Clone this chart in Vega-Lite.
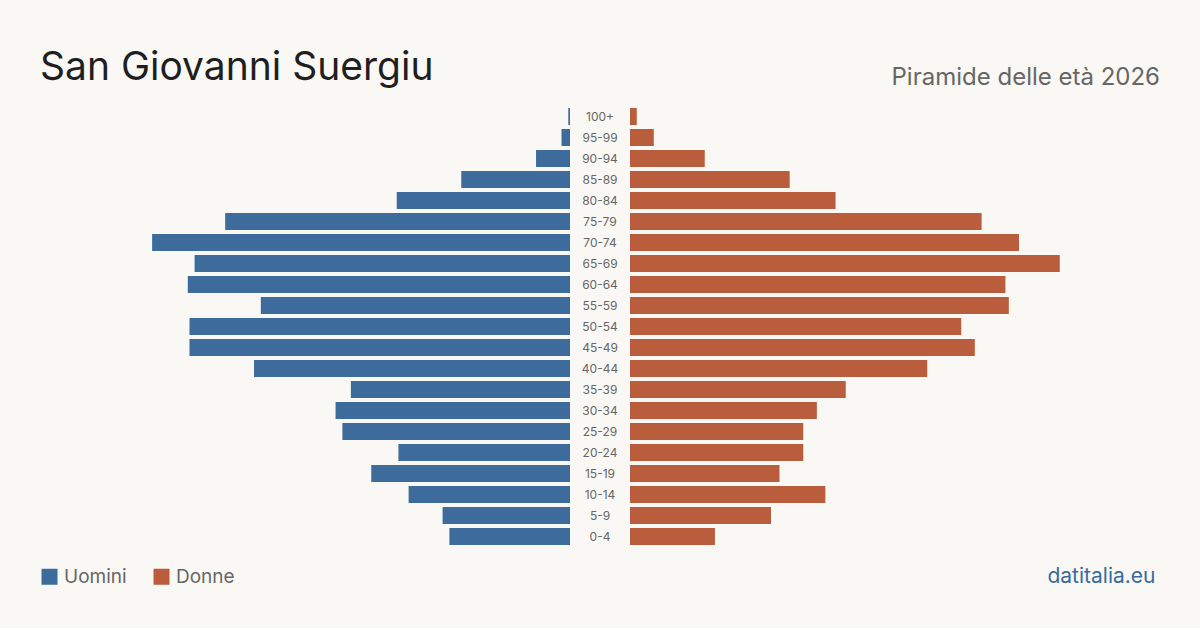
{
  "$schema": "https://vega.github.io/schema/vega-lite/v6.json",
  "background": "#f9f8f4",
  "padding": {"left": 40, "right": 40, "top": 49, "bottom": 41},
  "spacing": 0,
  "data": {"values": [
    {"age": "100+", "sex": "Uomini", "value": 1}, {"age": "100+", "sex": "Donne", "value": 4},
    {"age": "95-99", "sex": "Uomini", "value": 5}, {"age": "95-99", "sex": "Donne", "value": 14},
    {"age": "90-94", "sex": "Uomini", "value": 20}, {"age": "90-94", "sex": "Donne", "value": 44},
    {"age": "85-89", "sex": "Uomini", "value": 64}, {"age": "85-89", "sex": "Donne", "value": 94},
    {"age": "80-84", "sex": "Uomini", "value": 102}, {"age": "80-84", "sex": "Donne", "value": 121},
    {"age": "75-79", "sex": "Uomini", "value": 203}, {"age": "75-79", "sex": "Donne", "value": 207},
    {"age": "70-74", "sex": "Uomini", "value": 246}, {"age": "70-74", "sex": "Donne", "value": 229},
    {"age": "65-69", "sex": "Uomini", "value": 221}, {"age": "65-69", "sex": "Donne", "value": 253},
    {"age": "60-64", "sex": "Uomini", "value": 225}, {"age": "60-64", "sex": "Donne", "value": 221},
    {"age": "55-59", "sex": "Uomini", "value": 182}, {"age": "55-59", "sex": "Donne", "value": 223},
    {"age": "50-54", "sex": "Uomini", "value": 224}, {"age": "50-54", "sex": "Donne", "value": 195},
    {"age": "45-49", "sex": "Uomini", "value": 224}, {"age": "45-49", "sex": "Donne", "value": 203},
    {"age": "40-44", "sex": "Uomini", "value": 186}, {"age": "40-44", "sex": "Donne", "value": 175},
    {"age": "35-39", "sex": "Uomini", "value": 129}, {"age": "35-39", "sex": "Donne", "value": 127},
    {"age": "30-34", "sex": "Uomini", "value": 138}, {"age": "30-34", "sex": "Donne", "value": 110},
    {"age": "25-29", "sex": "Uomini", "value": 134}, {"age": "25-29", "sex": "Donne", "value": 102},
    {"age": "20-24", "sex": "Uomini", "value": 101}, {"age": "20-24", "sex": "Donne", "value": 102},
    {"age": "15-19", "sex": "Uomini", "value": 117}, {"age": "15-19", "sex": "Donne", "value": 88},
    {"age": "10-14", "sex": "Uomini", "value": 95}, {"age": "10-14", "sex": "Donne", "value": 115},
    {"age": "5-9", "sex": "Uomini", "value": 75}, {"age": "5-9", "sex": "Donne", "value": 83},
    {"age": "0-4", "sex": "Uomini", "value": 71}, {"age": "0-4", "sex": "Donne", "value": 50}
  ]},
  "hconcat": [
    {
      "width": 530,
      "height": 441,
      "title": {"text": "San Giovanni Suergiu", "anchor": "start", "frame": "group", "fontSize": 39, "fontWeight": "normal", "color": "#1f1f1f", "font": "Inter", "offset": 18},
      "transform": [{"filter": "datum.sex === 'Uomini'"}],
      "mark": {"type": "bar"},
      "encoding": {
        "y": {"field": "age", "type": "nominal", "axis": null,
          "sort": ["100+","95-99","90-94","85-89","80-84","75-79","70-74","65-69","60-64","55-59","50-54","45-49","40-44","35-39","30-34","25-29","20-24","15-19","10-14","5-9","0-4"],
          "scale": {"paddingInner": 0.19, "paddingOuter": 0.095}},
        "x": {"field": "value", "type": "quantitative", "axis": null, "scale": {"domain": [0, 312], "reverse": true, "nice": false}},
        "color": {"field": "sex", "type": "nominal",
          "scale": {"domain": ["Uomini", "Donne"], "range": ["#3c6b9c", "#b95d3c"]},
          "legend": {"orient": "none", "legendX": 0, "legendY": 461, "direction": "horizontal", "title": null,
            "symbolType": "square", "symbolSize": 256, "symbolStrokeWidth": 0, "symbolOpacity": 1,
            "labelFontSize": 19, "labelColor": "#666666", "labelFont": "Inter", "labelOffset": 5, "columnPadding": 25}}
      }
    },
    {
      "width": 60,
      "height": 441,
      "transform": [{"filter": "datum.sex === 'Uomini'"}],
      "mark": {"type": "text", "fontSize": 12, "color": "#666666", "font": "Inter", "baseline": "middle", "align": "center"},
      "encoding": {
        "y": {"field": "age", "type": "nominal", "axis": null,
          "sort": ["100+","95-99","90-94","85-89","80-84","75-79","70-74","65-69","60-64","55-59","50-54","45-49","40-44","35-39","30-34","25-29","20-24","15-19","10-14","5-9","0-4"],
          "scale": {"paddingInner": 0.19, "paddingOuter": 0.095}},
        "text": {"field": "age", "type": "nominal"}
      }
    },
    {
      "width": 530,
      "height": 441,
      "title": {"text": "Piramide delle età 2026", "anchor": "end", "frame": "group", "fontSize": 24, "fontWeight": "normal", "color": "#666666", "font": "Inter", "offset": 16},
      "transform": [{"filter": "datum.sex === 'Donne'"}],
      "mark": {"type": "bar"},
      "encoding": {
        "y": {"field": "age", "type": "nominal", "axis": null,
          "sort": ["100+","95-99","90-94","85-89","80-84","75-79","70-74","65-69","60-64","55-59","50-54","45-49","40-44","35-39","30-34","25-29","20-24","15-19","10-14","5-9","0-4"],
          "scale": {"paddingInner": 0.19, "paddingOuter": 0.095}},
        "x": {"field": "value", "type": "quantitative", "scale": {"domain": [0, 312], "nice": false},
          "axis": {"domain": false, "ticks": false, "labels": false, "grid": false, "title": "datitalia.eu",
            "titleX": 525, "titleAlign": "right", "titleFontSize": 21, "titleFontWeight": "normal", "titleColor": "#3b6b9c",
            "titleFont": "Inter", "titlePadding": 35, "titleBaseline": "alphabetic"}},
        "color": {"field": "sex", "type": "nominal",
          "scale": {"domain": ["Uomini", "Donne"], "range": ["#3c6b9c", "#b95d3c"]}}
      }
    }
  ],
  "config": {
    "view": {"stroke": null},
    "font": "Inter"
  }
}
